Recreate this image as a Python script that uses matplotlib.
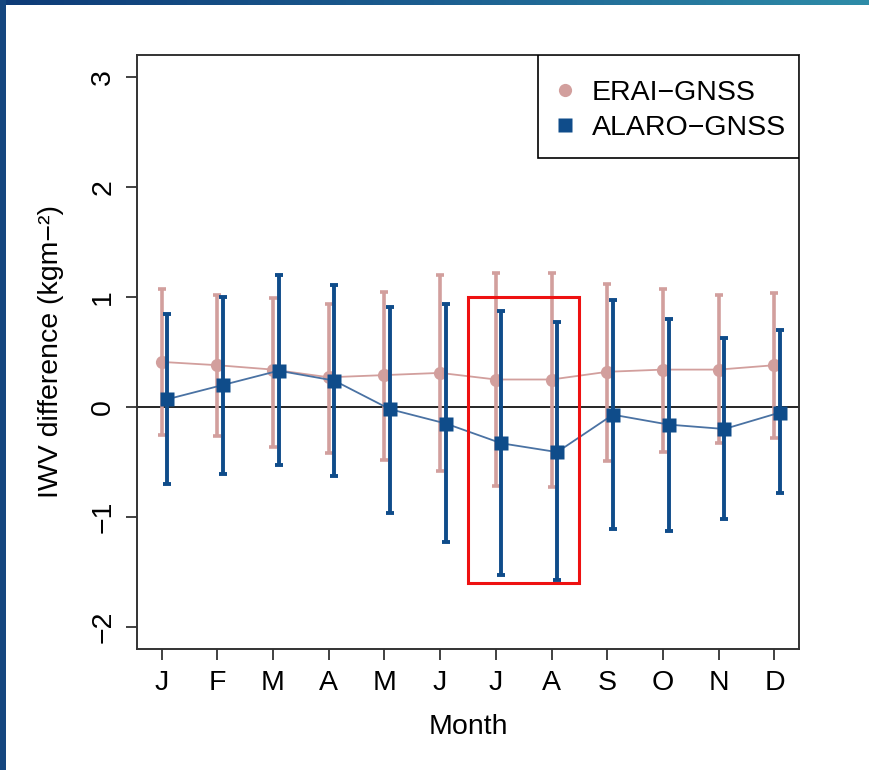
import numpy as np
import matplotlib
matplotlib.use("Agg")
import matplotlib.pyplot as plt
from matplotlib.patches import Rectangle
from matplotlib.colors import LinearSegmentedColormap

plt.rcParams['font.family'] = ['Liberation Sans', 'DejaVu Sans']

months = ["J", "F", "M", "A", "M", "J", "J", "A", "S", "O", "N", "D"]

# ERAI-GNSS: mean and error bar ends
erai_mean = [0.41, 0.38, 0.34, 0.27, 0.29, 0.31, 0.25, 0.25, 0.32, 0.34, 0.34, 0.38]
erai_hi = [1.07, 1.02, 0.99, 0.94, 1.05, 1.20, 1.22, 1.22, 1.12, 1.07, 1.02, 1.04]
erai_lo = [-0.25, -0.26, -0.36, -0.42, -0.48, -0.58, -0.72, -0.73, -0.49, -0.41, -0.33, -0.28]

# ALARO-GNSS
alaro_mean = [0.07, 0.20, 0.33, 0.24, -0.02, -0.15, -0.33, -0.41, -0.07, -0.16, -0.20, -0.05]
alaro_hi = [0.85, 1.00, 1.20, 1.11, 0.91, 0.94, 0.87, 0.77, 0.97, 0.80, 0.63, 0.70]
alaro_lo = [-0.70, -0.61, -0.53, -0.63, -0.96, -1.23, -1.53, -1.57, -1.11, -1.13, -1.02, -0.78]

erai_col = "#d29f9d"
alaro_col = "#0f4c8a"
fs = 20.5

W, H = 869, 770
L, R, T, B = 137, 799, 55, 649   # axes box in pixels

fig = plt.figure(figsize=(W / 100, H / 100), dpi=100)

# slide frame (dark blue strips top and left)
bg = fig.add_axes([0, 0, 1, 1], zorder=-5)
bg.set_xlim(0, W)
bg.set_ylim(H, 0)
bg.axis("off")
grad = np.linspace(0, 1, 256).reshape(1, -1)
cm_top = LinearSegmentedColormap.from_list("top", ["#0e3b77", "#1c5e90", "#2e8ca8"])
bg.imshow(grad, cmap=cm_top, extent=(0, W, 5, 0), aspect="auto")
bg.add_patch(Rectangle((0, 0), 6, H, color="#15467f", lw=0))

ax = fig.add_axes([L / W, 1 - B / H, (R - L) / W, (B - T) / H])


def px2ax(px, py):
    return (px - L) / (R - L), (B - py) / (B - T)


x = np.arange(1, 13)
xa = x + 0.1

erai_mean = np.array(erai_mean)
alaro_mean = np.array(alaro_mean)

ax.axhline(0, color="black", lw=1.2, zorder=1)

ax.errorbar(x, erai_mean,
            yerr=[erai_mean - np.array(erai_lo), np.array(erai_hi) - erai_mean],
            fmt="none", ecolor=erai_col, elinewidth=2.6, capsize=3, capthick=2.6, zorder=2)
ax.plot(x, erai_mean, color=erai_col, lw=1.3, zorder=2)
ax.plot(x, erai_mean, "o", color=erai_col, ms=9.5, mec="none", zorder=3, label="ERAI\u2212GNSS")

ax.errorbar(xa, alaro_mean,
            yerr=[alaro_mean - np.array(alaro_lo), np.array(alaro_hi) - alaro_mean],
            fmt="none", ecolor=alaro_col, elinewidth=2.8, capsize=3, capthick=2.8, zorder=4)
ax.plot(xa, alaro_mean, color="#4a72a3", lw=1.3, zorder=4)
ax.plot(xa, alaro_mean, "s", color=alaro_col, ms=10.5, mec="none", zorder=5, label="ALARO\u2212GNSS")

ax.add_patch(Rectangle((6.5, -1.6), 2.0, 2.6, fill=False, ec="#ee1111", lw=2.2, zorder=6))

ax.set_xlim(0.56, 12.44)
ax.set_ylim(-2.2, 3.2)
ax.set_xticks(x)
ax.set_xticklabels(months, fontsize=fs)
ax.set_yticks([-2, -1, 0, 1, 2, 3])
ax.set_yticklabels(["\u22122", "\u22121", "0", "1", "2", "3"], fontsize=fs,
                   rotation=90, va="center")
ax.tick_params(direction="out", length=8, width=1.3, color="#333333", pad=7)
for s in ax.spines.values():
    s.set_linewidth(1.4)
    s.set_color("#333333")

ax.set_xlabel("Month", fontsize=fs, labelpad=13)
ax.set_ylabel("IWV difference (kgm\u2212\u00b2)", fontsize=fs, labelpad=19)

# legend box drawn separately, entries placed inside it
bx0, by0 = px2ax(538, 158)
bx1, by1 = px2ax(R, T)
ax.add_patch(Rectangle((bx0, by0), bx1 - bx0, by1 - by0, transform=ax.transAxes,
                       fill=True, fc="white", ec="black", lw=1.2, zorder=7))
leg = ax.legend(loc="upper left", bbox_to_anchor=px2ax(551, 80), fontsize=fs,
                frameon=False, borderaxespad=0, borderpad=0, labelspacing=0.32,
                handletextpad=0.44, handlelength=1.0)
leg.set_zorder(8)

fig.savefig("out.png", dpi=100, facecolor="white")
